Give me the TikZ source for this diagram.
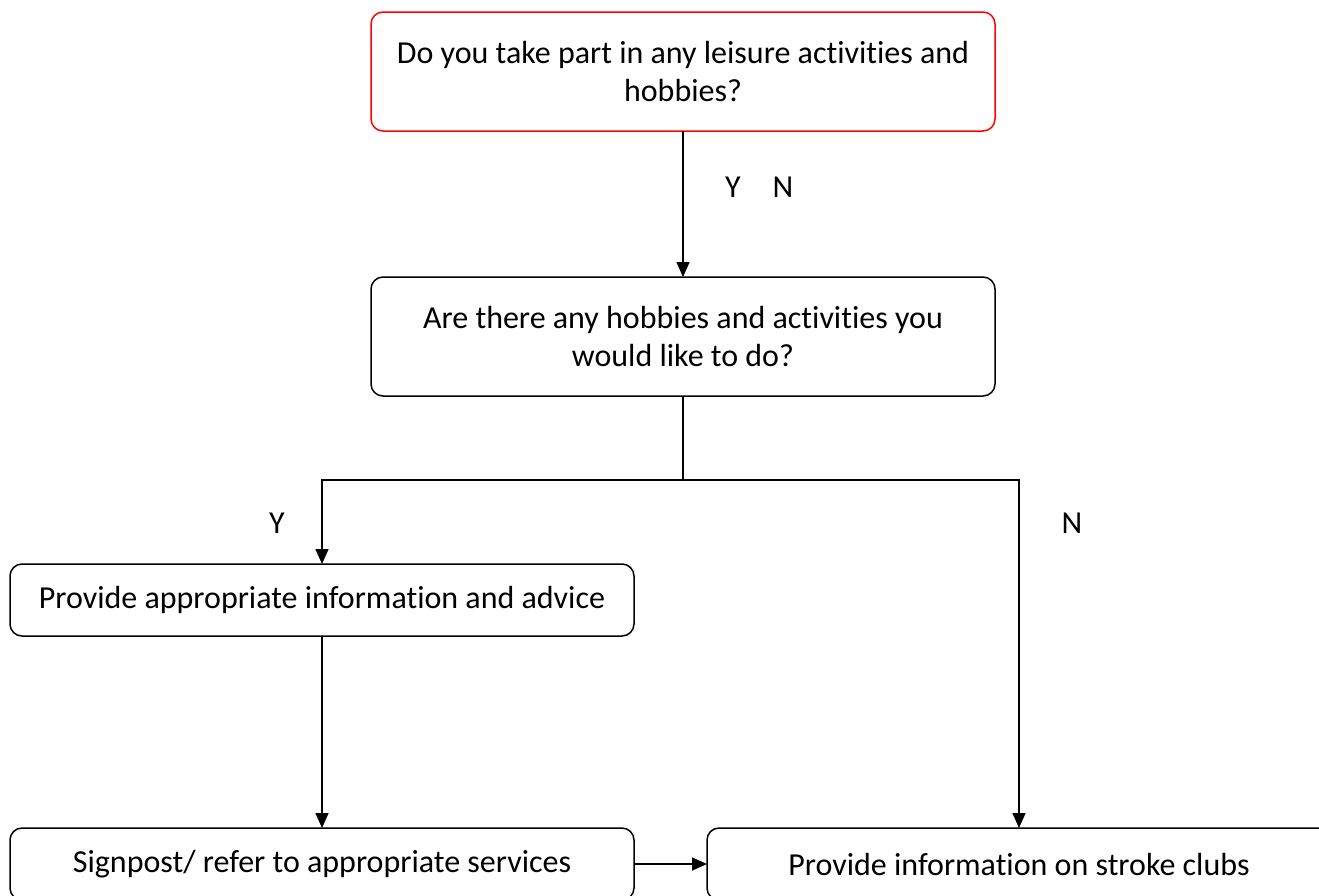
\documentclass[tikz,border=0pt]{standalone}
\usepackage{fontspec}
\setmainfont{Carlito}[Ligatures=NoCommon]
\usetikzlibrary{arrows.meta}
\begin{document}
\begin{tikzpicture}[x=1pt,y=-1pt,
  every node/.style={font=\fontsize{32}{38}\selectfont, inner sep=0pt, outer sep=0pt},
  box/.style={draw, line width=1.5pt, rounded corners=12pt, anchor=north west,
    align=center, minimum width=624pt},
  tallbox/.style={box, minimum height=119pt},
  flatbox/.style={box, minimum height=72pt},
  conn/.style={line width=1.5pt},
  arr/.style={conn, -{Triangle[length=15pt,width=13pt]}},
  lbl/.style={anchor=center}
]
\useasboundingbox (0,0) rectangle (1319,895);
\clip (0,0) rectangle (1319,895);

% question boxes
\node[tallbox, draw=red] (q1) at (371,12)
  {Do you take part in any leisure activities and\\hobbies?};
\node[tallbox] (q2) at (371,277)
  {Are there any hobbies and activities you\\would like to do?};

% action boxes
\node[flatbox] (a1) at (10,564) {Provide appropriate information and advice};
\node[flatbox] (a2) at (10,828) {Signpost/ refer to appropriate services};
\node[flatbox] (a3) at (707,828) {Provide information on stroke clubs};

% connectors
\draw[arr] (q1.south) -- (q2.north);
\draw[conn] (q2.south) -- ++(0,84) coordinate (j);
\draw[arr] (j) -| (a1.north);
\draw[arr] (j) -| (a3.north);
\draw[arr] (a1.south) -- (a2.north);
\draw[arr] (a2.east) -- (a3.west);

% branch labels
\node[lbl] (y1) at (733,187) {Y};
\node[lbl] (n1) at (783,187) {N};
\node[lbl] (y2) at (277,523) {Y};
\node[lbl] (n2) at (1072,523) {N};
\end{tikzpicture}
\end{document}
